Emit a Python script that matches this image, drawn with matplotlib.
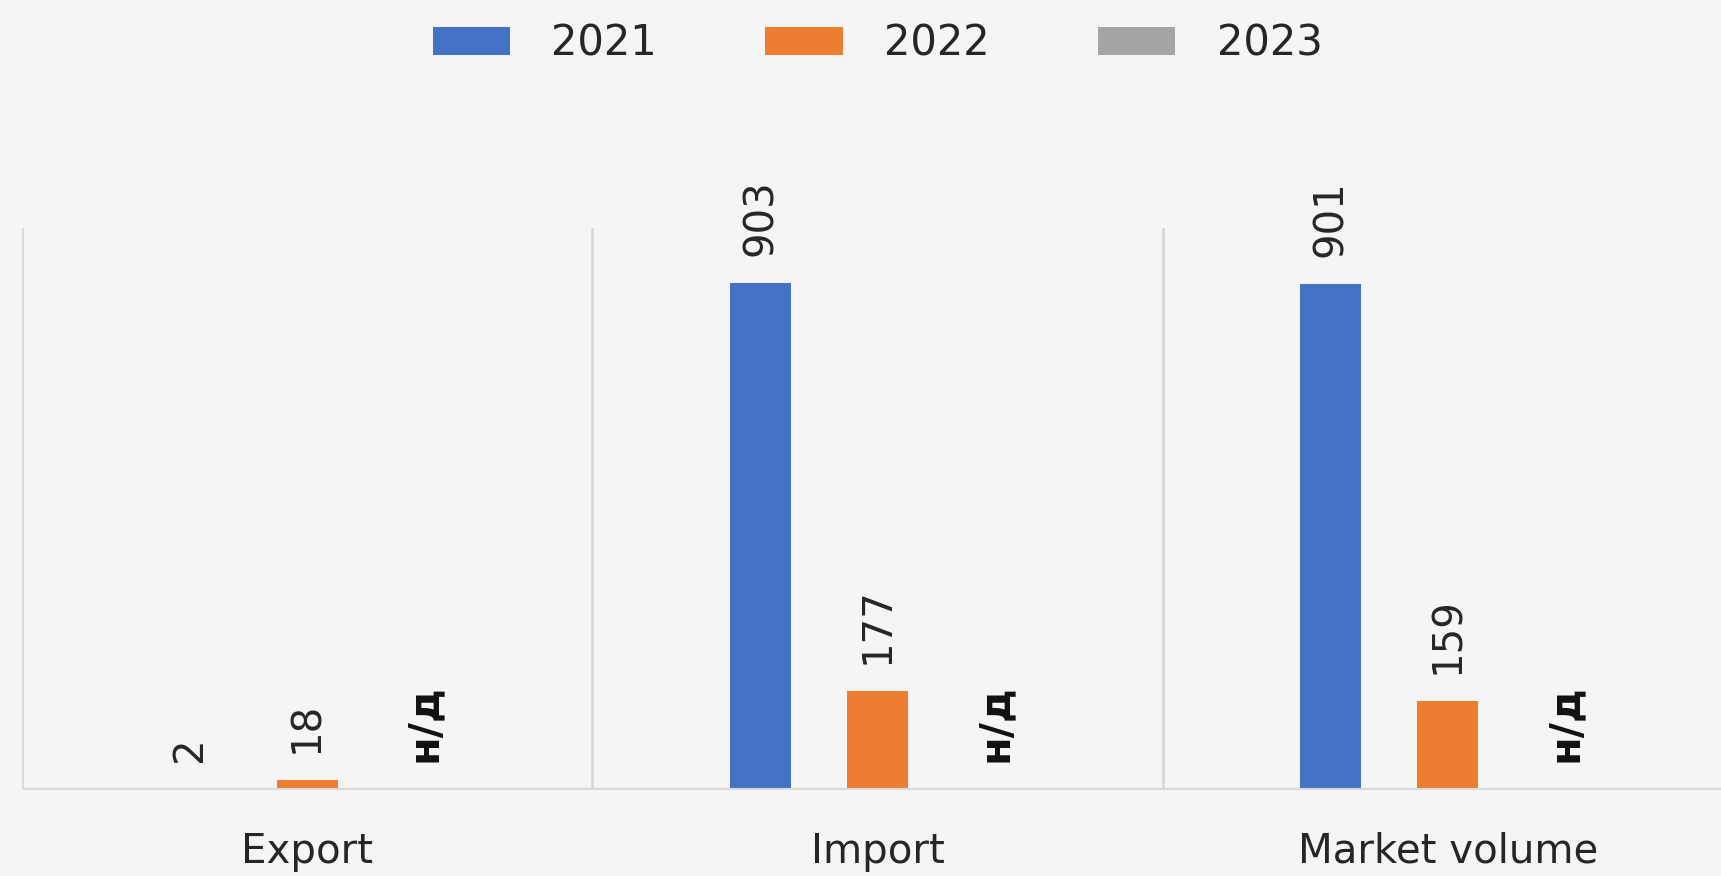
import matplotlib
matplotlib.use("Agg")
import matplotlib.pyplot as plt
import numpy as np

categories = ["Export", "Import", "Market volume"]
years = ["2021", "2022", "2023"]
values_2021 = [2, 903, 901]
values_2022 = [18, 177, 159]
values_2023 = [None, None, None]
missing_label = "н/д"
colors = ["#4472C4", "#ED7D31", "#A5A5A5"]

plt.rcParams['font.family'] = ['DejaVu Sans']
TXT = "#262626"
BG = "#f5f5f5"

fig = plt.figure(figsize=(17.21, 8.76), dpi=100, facecolor=BG)
ax = fig.add_axes([22/1721, 1-790/876, (1733-22)/1721, (790-228)/876])
ax.set_facecolor(BG)

x = np.arange(len(categories))
offset = 0.205
width = 0.107
series = [values_2021, values_2022, values_2023]
for i, (yr, vals, c) in enumerate(zip(years, series, colors)):
    pos = x + (i - 1) * offset
    h = [v if v is not None else 0 for v in vals]
    ax.bar(pos, h, width=width, color=c, label=yr, zorder=3)
    for p, v in zip(pos, vals):
        if v is None:
            ax.annotate(missing_label, (p, 0), xytext=(0, 20), textcoords="offset points",
                        rotation=90, ha="center", va="bottom", fontsize=30,
                        fontweight="bold", color="#111111")
        else:
            ax.annotate(f"{v}", (p, v), xytext=(0, 19), textcoords="offset points",
                        rotation=90, ha="center", va="bottom", fontsize=29, color=TXT)

ax.set_xlim(-0.5, 2.5)
ax.set_ylim(0, 1000)
for b in [-0.5, 0.5, 1.5, 2.5]:
    ax.axvline(b, color="#d9d9d9", lw=2, zorder=1)
ax.axhline(0, color="#d9d9d9", lw=3, zorder=4)
for s in ax.spines.values():
    s.set_visible(False)
ax.set_yticks([])
ax.set_xticks(x)
ax.set_xticklabels(categories, fontsize=29, color=TXT)
ax.tick_params(axis="x", length=0, pad=30)

fig.legend(loc="center", bbox_to_anchor=(0.51, 1-44/876), ncol=3, frameon=False,
           fontsize=30, handlelength=1.85, handleheight=0.65, handletextpad=1.0,
           columnspacing=2.6, labelcolor=TXT)

fig.savefig("out.png", dpi=100, facecolor=BG)
